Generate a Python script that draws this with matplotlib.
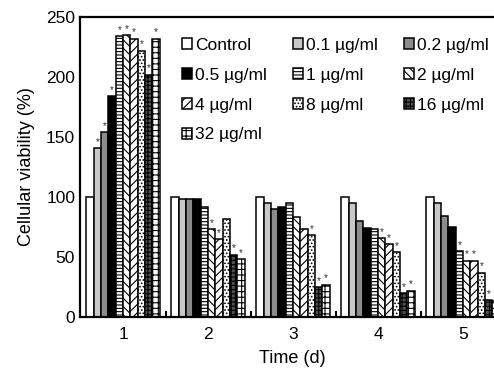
import matplotlib
matplotlib.use("Agg")
import matplotlib.pyplot as plt
import numpy as np

plt.rcParams['font.family'] = ['Liberation Sans', 'DejaVu Sans']
plt.rcParams['hatch.linewidth'] = 0.8

days = [1, 2, 3, 4, 5]
series = ["Control", "0.1 µg/ml", "0.2 µg/ml", "0.5 µg/ml", "1 µg/ml",
          "2 µg/ml", "4 µg/ml", "8 µg/ml", "16 µg/ml", "32 µg/ml"]

control = [100, 100, 100, 100, 100]
c01 = [141, 98, 95, 95, 95]
c02 = [154, 98, 90, 80, 84]
c05 = [184, 98, 92, 74, 75]
c1 = [234, 92, 95, 73, 55]
c2 = [235, 73, 83, 66, 47]
c4 = [232, 65, 73, 61, 47]
c8 = [222, 82, 68, 54, 37]
c16 = [202, 52, 25, 20, 14]
c32 = [232, 48, 27, 22, 13]
values = [control, c01, c02, c05, c1, c2, c4, c8, c16, c32]

# significance marks (1 = asterisk) per series per day
sig_control = [0, 0, 0, 0, 0]
sig_c01 = [1, 0, 0, 0, 0]
sig_c02 = [1, 0, 0, 0, 0]
sig_c05 = [1, 0, 0, 0, 0]
sig_c1 = [1, 0, 0, 0, 1]
sig_c2 = [1, 1, 0, 1, 1]
sig_c4 = [1, 1, 0, 1, 1]
sig_c8 = [1, 0, 1, 1, 1]
sig_c16 = [1, 1, 1, 1, 1]
sig_c32 = [1, 1, 1, 1, 1]
sigs = [sig_control, sig_c01, sig_c02, sig_c05, sig_c1, sig_c2, sig_c4, sig_c8, sig_c16, sig_c32]

faces = ['white', '#c8c8c8', '#8c8c8c', 'black', 'white', 'white', 'white', 'white', '#505050', 'white']
hatches = [None, None, None, None, '-----', '\\\\\\\\', '////', '.....', '++++', '+++']

fig = plt.figure(figsize=(4.94, 3.76), dpi=100)
ax = fig.add_axes([80/494, 59/376, 425/494, 300/376])

x = np.array(days, dtype=float)
w = 0.086
n = len(series)
handles = []
for i, (name, vals) in enumerate(zip(series, values)):
    pos = x + (i - (n - 1) / 2) * w
    b = ax.bar(pos, vals, width=w, facecolor=faces[i], edgecolor='black',
               linewidth=1.1, hatch=hatches[i], label=name)
    handles.append(b)
    for p, v, s in zip(pos, vals, sigs[i]):
        if s:
            ax.text(p, v + 1.0, '*', ha='center', va='bottom', fontsize=7, color='#333333')

ax.set_xlim(0.494, 5.494)
ax.set_ylim(0, 250)
ax.set_yticks([0, 50, 100, 150, 200, 250])
ax.set_xticks(days)
ax.set_xticks([1.5, 2.5, 3.5, 4.5], minor=True)
ax.tick_params(axis='x', which='major', length=0, labelsize=12.5, pad=7)
ax.tick_params(axis='x', which='minor', direction='in', length=4, width=1.5)
ax.tick_params(axis='y', length=0, labelsize=12.5, pad=3.5)
for s in ax.spines.values():
    s.set_linewidth(1.6)

ax.set_xlabel('Time (d)', fontsize=13, labelpad=6)
ax.set_ylabel('Cellular viability (%)', fontsize=13, labelpad=8)

order = [0, 3, 6, 9, 1, 4, 7, 2, 5, 8]
leg = ax.legend([handles[k] for k in order], [series[k] for k in order],
                ncol=3, loc='upper left', bbox_to_anchor=(182/494, 1 - 38/376),
                bbox_transform=fig.transFigure, frameon=False, fontsize=12.5,
                handlelength=0.6, handleheight=0.6, handletextpad=0.15,
                columnspacing=1.5, labelspacing=0.85, borderpad=0, borderaxespad=0)

fig.savefig('out.png', dpi=100)
